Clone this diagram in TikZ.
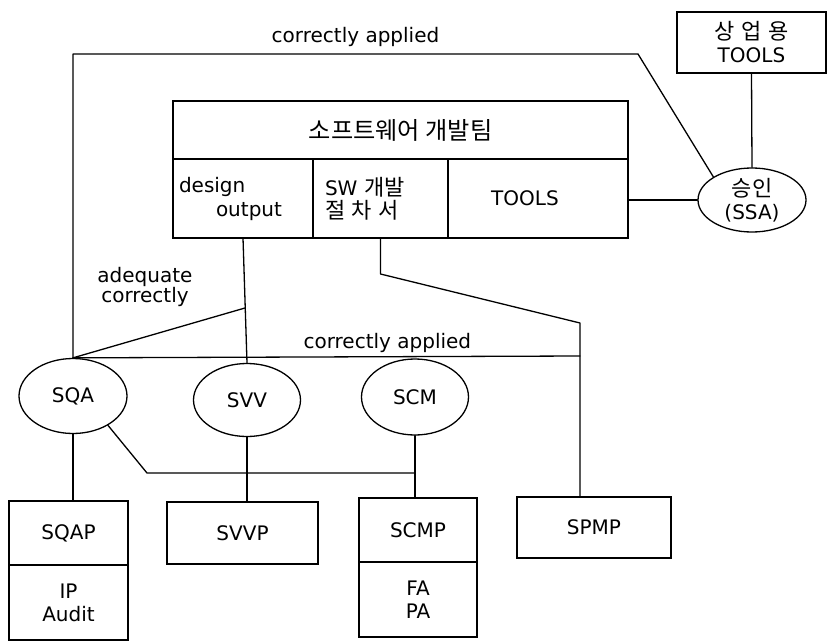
\documentclass[tikz,border=0pt]{standalone}
\usepackage{fontspec}
\setmainfont{DejaVu Sans}
\newfontfamily\kr{Noto Sans CJK KR}[Scale=1.1]
\newcommand{\kgap}{\hspace{0.3em}}
\usetikzlibrary{positioning,shapes.geometric}

\begin{document}
\begin{tikzpicture}[x=1pt,y=-1pt,font=\fontsize{20}{23}\selectfont,line width=1.3pt,
  box/.style={draw,outer sep=0pt,align=center},
  cell/.style={box,minimum height=79pt,align=left},
  oval/.style={draw,ellipse,inner sep=0pt,align=center},
  link/.style={draw,line cap=round,line join=round}]
\useasboundingbox (0,0) rectangle (827,642);

% software team block
\node[box,minimum width=455pt,minimum height=58pt] (team) at (400.5,130) {\fontsize{22}{25}\selectfont\kr 소프트웨어 개발팀};
\node[cell,anchor=north west,minimum width=140pt,text width=128pt,inner sep=6pt] (design) at (team.south west) {design\\[1pt]\hspace*{37pt}output};
\node[cell,right=0pt of design,minimum width=135pt,text width=111pt,inner sep=12pt] (proc) {SW {\kr 개발}\\[0pt]{\kr 절\kgap 차\kgap 서}};
\node[cell,right=0pt of proc,minimum width=180pt,align=center] (tools) {TOOLS\hspace*{26pt}};

% approval and commercial tools
\node[oval,minimum width=108pt,minimum height=64pt] (ssa) at (752,200) {{\kr 승인}\\(SSA)};
\node[box,minimum width=149pt,minimum height=61pt] (comtools) at (751.5,42.5) {{\kr 상\kgap 업\kgap 용}\\TOOLS};

% activities
\node[oval,minimum width=108pt,minimum height=75pt] (sqa) at (73,396) {SQA};
\node[oval,minimum width=107pt,minimum height=73pt] (svv) at (247,400) {SVV};
\node[oval,minimum width=107pt,minimum height=76pt] (scm) at (415,397) {SCM};

% plans
\node[box,minimum width=119pt,minimum height=64pt] (sqap) at (68.5,533) {SQAP};
\node[box,below=0pt of sqap,minimum width=119pt,minimum height=75pt] (sqaaudit) {IP\\Audit};
\node[box,minimum width=151pt,minimum height=62pt] (svvp) at (242.5,533) {SVVP};
\node[box,minimum width=118pt,minimum height=64pt] (scmp) at (418,530) {SCMP};
\node[box,below=0pt of scmp,minimum width=118pt,minimum height=75pt] (scmfa) {FA\\PA};
\node[box,minimum width=154pt,minimum height=61pt] (spmp) at (594,527.5) {SPMP};

\node[align=center] (adequ) at (145,287) {adequate\\[-3pt]correctly};

\coordinate (loopbend) at (638,54);
\coordinate (pbend) at (380.5,274);
\coordinate (pknee) at (580,323);
\coordinate (ptee) at (580,356);
\coordinate (qbend) at (147,473);

% outer loop to approval
\draw[link] (sqa.north) |- (loopbend) node[pos=0.75,above,yshift=3pt] {correctly applied} -- (ssa.north west);
\draw[link] (tools.east |- ssa.west) -- (ssa.west);
\draw[link] (comtools.south) -- (ssa.north);

% design output and procedures
\draw[link] (design.south) -- (svv.north);
\path (design.south) -- (svv.north) coordinate[pos=0.56] (dsplit);
\draw[link] (dsplit) -- (sqa.north);
\draw[link] (proc.south) -- (pbend) -- (pknee) -- (pknee |- spmp.north);
\draw[link] (sqa.north) -- (ptee) node[pos=0.62,above] {correctly applied};

% activities to plans
\draw[link] (sqa.-40) -- (qbend) -- (qbend -| scm.south);
\draw[link] (sqa.south) -- (sqa.south |- sqap.north);
\draw[link] (svv.south) -- (svv.south |- svvp.north);
\draw[link] (scm.south) -- (scm.south |- scmp.north);
\end{tikzpicture}
\end{document}
